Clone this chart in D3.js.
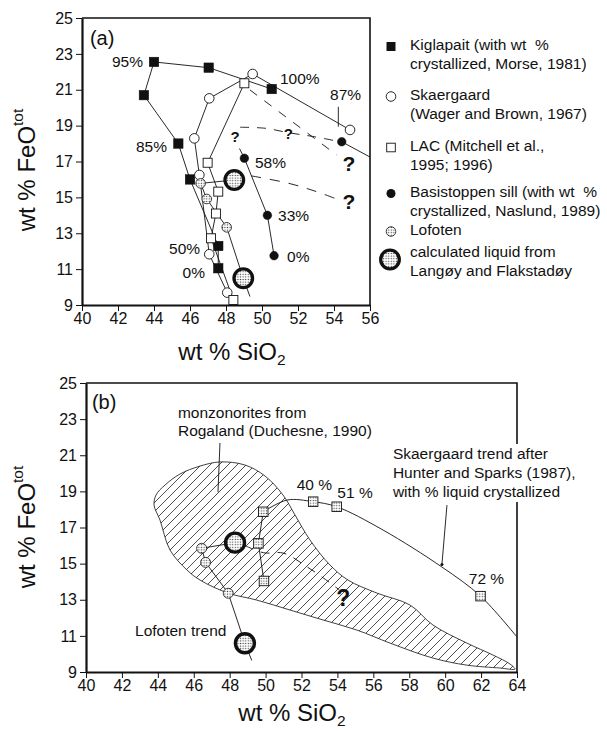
<!DOCTYPE html>
<html><head><meta charset="utf-8">
<script src="https://cdn.jsdelivr.net/npm/d3@7"></script>
<style>
body{margin:0;background:#fff;}
svg text{font-family:"Liberation Sans",Arial,Helvetica,sans-serif;fill:#111;white-space:pre;}
</style></head><body>
<svg id="fig" width="607" height="731"></svg>
<script>
// ---------- Panel (a): wt% SiO2 vs wt% FeOtot ----------
const kiglapait   = [[47.57,11.05],[47.57,12.29],[46.0,16.0],[45.35,18.0],[43.44,20.7],[44.0,22.55],[47.04,22.23],[50.54,21.04]];
const skaergaard  = [[48.07,9.69],[47.07,11.83],[46.52,16.25],[46.24,18.29],[47.07,20.52],[49.48,21.88],[54.89,18.76]];
const lac         = [[48.41,9.28],[47.17,12.72],[47.44,14.1],[47.57,15.32],[46.98,16.93],[49.02,21.36]];
const basistoppen = [[50.67,11.75],[50.3,14.0],[49.02,17.18]];
const basistoppenLate = [[54.43,18.1]];
const basistoppenTail = [[49.02,17.18],[48.75,17.72]];
const basistoppenEnd  = [[54.43,18.1],[56.0,17.25]];
const lofotenA    = [[46.59,15.78],[46.93,14.91],[48.04,13.33]];
const liquidA     = [[48.46,15.97],[48.96,10.49]];
const lofotenTrendA = [[46.59,15.78],[46.93,14.91],[48.04,13.33],[48.96,10.49],[49.33,9.47]];
const lofotenLinkA  = [[46.59,15.78],[48.46,15.97]];
const dashBasis   = [[48.78,18.91],[50.2,18.85],[51.5,18.6],[52.8,18.4],[54.06,18.16]];
const dashLac     = [[49.33,20.99],[54.15,17.36]];
const dashLiquidA = [[49.4,16.2],[51.5,15.78],[53.0,15.33],[54.3,14.85]];
const leader87    = [[54.24,20.05],[54.24,18.94]];
const pctLabelsA  = [
  ["95%",43.39,22.55,"end"],["85%",44.72,17.81,"end"],["100%",51.0,21.6,"start"],
  ["87%",53.78,20.71,"start"],["58%",49.61,16.92,"start"],["33%",50.89,13.96,"start"],
  ["0%",51.39,11.68,"start"],["50%",46.56,12.12,"end"],["0%",46.83,10.79,"end"]];
const smallQA = [[48.5,18.38],[51.46,18.57]];
const bigQA   = [[54.83,16.9],[54.83,14.76]];

// ---------- Panel (b) ----------
const hsPoints   = [[49.91,14.04],[49.6,16.12],[49.87,17.87],[52.65,18.43],[53.96,18.15],[61.97,13.2]];
const hsLower    = [[49.91,14.04],[49.6,16.12],[49.87,17.87]];
const hsCurve    = [[49.87,17.87],[51.2,18.52],[52.65,18.43],[53.96,18.15],[56.54,16.86],[59.82,14.81],[61.97,13.2],[63.98,10.96]];
const hsLabels   = [["40 %",52.72,19.35],["51 %",54.98,18.91],["72 %",62.3,14.2]];
const lofotenB   = [[46.44,15.85],[46.66,15.07],[47.92,13.36]];
const liquidB    = [[48.3,16.16],[48.85,10.59]];
const lofotenTrendB = [[46.44,15.85],[46.66,15.07],[47.92,13.36],[48.85,10.59],[49.23,9.64]];
const lofotenLinkB  = [[46.44,15.85],[48.3,16.16]];
const dashLiquidB = [[48.85,16.0],[49.9,15.6],[51.0,15.58],[52.3,14.83],[53.6,13.93],[54.1,13.55]];
const monzonorite = [
  [43.79,18.24],[43.90,18.80],[44.40,19.35],[45.23,19.96],[46.35,20.40],[47.46,20.63],[48.85,20.46],
  [49.97,19.85],[50.97,18.80],[51.64,17.69],[52.47,16.31],[53.59,14.92],[54.59,14.09],[56.20,13.37],
  [58.04,12.71],[59.32,11.60],[61.21,10.60],[62.66,9.94],[63.61,9.44],[63.89,9.16],
  [63.05,9.22],[61.21,9.38],[59.32,9.77],[56.93,10.60],[55.09,11.32],[53.20,11.88],[51.36,12.43],
  [49.52,12.98],[47.91,13.37],[46.35,14.09],[45.62,14.65],[44.68,15.75],[44.12,17.41]];
const leaderMonz = [[47.46,21.68],[47.35,18.96]];
const leaderHS   = [[60.1,18.24],[59.82,14.95]];
const bigQB      = [[54.33,13.08]];

const xTicksA = d3.range(40,57,2), xTicksB = d3.range(40,65,2), yTicks = d3.range(9,26,2);

const legendRows = [
  {sym:"fsq",  lines:["Kiglapait (with wt  %","crystallized, Morse, 1981)"], y:45},
  {sym:"ocirc",lines:["Skaergaard","(Wager and Brown, 1967)"], y:95},
  {sym:"osq",  lines:["LAC (Mitchell et al.,","1995; 1996)"], y:146},
  {sym:"fcirc",lines:["Basistoppen sill (with wt  %","crystallized, Naslund, 1989)"], y:192},
  {sym:"lof",  lines:["Lofoten"], y:230},
  {sym:"liq",  lines:["calculated liquid from","Langøy and Flakstadøy"], y:252}
];

const fig = d3.select("#fig");
const defs = fig.append("defs");
const stip = defs.append("pattern").attr("id","stipple").attr("patternUnits","userSpaceOnUse").attr("width",2.6).attr("height",2.6);
stip.append("rect").attr("width",2.6).attr("height",2.6).attr("fill","#fff");
stip.append("circle").attr("cx",1.3).attr("cy",1.3).attr("r",0.7).attr("fill","#444");
const hatch = defs.append("pattern").attr("id","hatch").attr("patternUnits","userSpaceOnUse").attr("width",9).attr("height",9);
hatch.append("path").attr("d","M-1,1 l2,-2 M0,9 l9,-9 M8,10 l2,-2").attr("stroke","#222").attr("stroke-width",0.8);

function makePanel(xr, yr, xTicks) {
  const x = d3.scaleLinear().domain([xTicks[0], xTicks[xTicks.length-1]]).range(xr);
  const y = d3.scaleLinear().domain([9,25]).range(yr);
  const g = fig.append("g");
  const line = d3.line().x(d=>x(d[0])).y(d=>y(d[1]));
  return {x,y,g,line};
}
function drawAxes(p, xTicks) {
  const {x,y,g} = p;
  const ax = g.append("g").attr("transform",`translate(0,${y.range()[0]})`)
    .call(d3.axisBottom(x).tickValues(xTicks).tickSize(6).tickPadding(2).tickSizeOuter(0));
  const ay = g.append("g").attr("transform",`translate(${x.range()[0]},0)`)
    .call(d3.axisLeft(y).tickValues(yTicks).tickSize(6).tickPadding(3).tickSizeOuter(0));
  [ax,ay].forEach(a=>{
    a.select(".domain").attr("stroke","#111").attr("stroke-width",2.2);
    a.selectAll(".tick line").attr("stroke","#111").attr("stroke-width",1);
    a.selectAll(".tick text").attr("font-size",16).attr("fill","#111")
      .attr("font-family",'"Liberation Sans",Arial,sans-serif');
  });
  // top and right frame
  g.append("path").attr("fill","none").attr("stroke","#111").attr("stroke-width",1.6)
    .attr("d",`M${x.range()[0]},${y.range()[1]}H${x.range()[1]}V${y.range()[0]}`);
}
function titles(p, cxTitle, titleY, baseX, cyTitle) {
  const {g} = p;
  const t = g.append("text").attr("x",cxTitle).attr("y",titleY)
    .attr("text-anchor","middle").attr("font-size",24);
  t.append("tspan").text("wt % SiO");
  t.append("tspan").attr("font-size",15.5).attr("dy",5).text("2");
  const yt = g.append("text").attr("transform",`translate(${baseX},${cyTitle}) rotate(-90)`)
    .attr("text-anchor","middle").attr("font-size",24);
  yt.append("tspan").text("wt % FeO");
  yt.append("tspan").attr("font-size",15.5).attr("dy",-12).text("tot");
}
function sq(g, pts, p, size, fill, sw) {
  g.selectAll(null).data(pts).join("rect")
    .attr("x",d=>p.x(d[0])-size/2).attr("y",d=>p.y(d[1])-size/2).attr("width",size).attr("height",size)
    .attr("fill",fill).attr("stroke","#111").attr("stroke-width",sw);
}
function circ(g, pts, p, r, fill, sw) {
  g.selectAll(null).data(pts).join("circle")
    .attr("cx",d=>p.x(d[0])).attr("cy",d=>p.y(d[1])).attr("r",r)
    .attr("fill",fill).attr("stroke","#111").attr("stroke-width",sw);
}
function path(p, pts, opts={}) {
  const ln = opts.curve ? d3.line().x(d=>p.x(d[0])).y(d=>p.y(d[1])).curve(opts.curve) : p.line;
  p.g.append("path").attr("d",ln(pts)).attr("fill",opts.fill||"none").attr("stroke","#111")
    .attr("stroke-width",opts.sw||0.9).attr("stroke-dasharray",opts.dash||null);
}

// ===== Panel (a) =====
const pa = makePanel([82,370],[305,18],xTicksA);
drawAxes(pa, xTicksA);
titles(pa, 232, 360, 35, 170);
pa.g.append("text").attr("x",pa.x(40.44)).attr("y",pa.y(23.9)).attr("dy","0.35em").attr("font-size",20).text("(a)");
[kiglapait, skaergaard, lac, basistoppen, basistoppenTail, basistoppenEnd, lofotenTrendA, lofotenLinkA, leader87]
  .forEach(s=>path(pa,s));
path(pa, dashBasis, {dash:"9,8", curve:d3.curveCatmullRom});
path(pa, dashLac, {dash:"9,9"});
path(pa, dashLiquidA, {dash:"10,9", curve:d3.curveCatmullRom});
sq(pa.g, kiglapait, pa, 9.5, "#111", 0.5);
circ(pa.g, skaergaard, pa, 4.8, "#fff", 0.9);
sq(pa.g, lac, pa, 9, "#fff", 0.9);
circ(pa.g, basistoppen.concat(basistoppenLate), pa, 4.3, "#111", 0.5);
circ(pa.g, lofotenA, pa, 4.8, "url(#stipple)", 0.8);
circ(pa.g, liquidA, pa, 9.3, "url(#stipple)", 3.3);
pa.g.selectAll(null).data(pctLabelsA).join("text")
  .attr("x",d=>pa.x(d[1])).attr("y",d=>pa.y(d[2])).attr("dy","0.35em")
  .attr("text-anchor",d=>d[3]).attr("font-size",15.5).text(d=>d[0]);
pa.g.selectAll(null).data(smallQA).join("text")
  .attr("x",d=>pa.x(d[0])).attr("y",d=>pa.y(d[1])).attr("dy","0.35em").attr("text-anchor","middle")
  .attr("font-size",15).attr("font-weight","bold").text("?");
pa.g.selectAll(null).data(bigQA).join("text")
  .attr("x",d=>pa.x(d[0])).attr("y",d=>pa.y(d[1])).attr("dy","0.35em").attr("text-anchor","middle")
  .attr("font-size",21).attr("font-weight","bold").text("?");

// legend
const lg = fig.append("g");
legendRows.forEach(r=>{
  const mx = 391, my = r.y + 1.5;
  if (r.sym==="fsq") lg.append("rect").attr("x",mx-4.5).attr("y",my-4.5).attr("width",9).attr("height",9).attr("fill","#111");
  if (r.sym==="ocirc") lg.append("circle").attr("cx",mx).attr("cy",my).attr("r",4.8).attr("fill","#fff").attr("stroke","#111").attr("stroke-width",0.9);
  if (r.sym==="osq") lg.append("rect").attr("x",mx-4.3).attr("y",my-4.3).attr("width",8.6).attr("height",8.6).attr("fill","#fff").attr("stroke","#111").attr("stroke-width",0.9);
  if (r.sym==="fcirc") lg.append("circle").attr("cx",mx).attr("cy",my).attr("r",4.5).attr("fill","#111");
  if (r.sym==="lof") lg.append("circle").attr("cx",mx).attr("cy",my).attr("r",4.8).attr("fill","url(#stipple)").attr("stroke","#111").attr("stroke-width",0.8);
  if (r.sym==="liq") lg.append("circle").attr("cx",mx-1).attr("cy",my+6).attr("r",9.3).attr("fill","url(#stipple)").attr("stroke","#111").attr("stroke-width",3.3);
  r.lines.forEach((t,i)=>{
    lg.append("text").attr("x",410).attr("y",r.y + i*18.3).attr("dy","0.35em").attr("font-size",15.5).text(t);
  });
});

// ===== Panel (b) =====
const pb = makePanel([86,517],[672,383],xTicksB);
pb.g.append("path").attr("fill","url(#hatch)").attr("stroke","#111").attr("stroke-width",0.8)
  .attr("d", d3.line().x(d=>pb.x(d[0])).y(d=>pb.y(d[1])).curve(d3.curveCatmullRomClosed)(monzonorite));
drawAxes(pb, xTicksB);
titles(pb, 292, 721, 35, 527);
pb.g.append("text").attr("x",pb.x(40.33)).attr("y",pb.y(23.95)).attr("dy","0.35em").attr("font-size",20).text("(b)");
path(pb, hsCurve, {curve:d3.curveCatmullRom});
path(pb, hsLower);
path(pb, lofotenTrendB);
path(pb, lofotenLinkB);
path(pb, leaderMonz);
path(pb, dashLiquidB, {dash:"9,8", curve:d3.curveCatmullRom});
sq(pb.g, hsPoints, pb, 9.5, "url(#stipple)", 0.9);
circ(pb.g, lofotenB, pb, 5, "url(#stipple)", 0.8);
circ(pb.g, liquidB, pb, 9.5, "url(#stipple)", 3.4);
pb.g.selectAll(null).data(hsLabels).join("text")
  .attr("x",d=>pb.x(d[1])).attr("y",d=>pb.y(d[2])).attr("dy","0.35em").attr("text-anchor","middle")
  .attr("font-size",15.5).text(d=>d[0]);
pb.g.selectAll(null).data(bigQB).join("text")
  .attr("x",d=>pb.x(d[0])).attr("y",d=>pb.y(d[1])).attr("dy","0.35em").attr("text-anchor","middle")
  .attr("font-size",23).attr("font-weight","bold").text("?");
pb.g.append("text").attr("x",pb.x(42.73)).attr("y",pb.y(11.32)).attr("dy","0.35em").attr("font-size",15.5).text("Lofoten trend");
["monzonorites from","Rogaland (Duchesne, 1990)"].forEach((t,i)=>
  pb.g.append("text").attr("x",pb.x(45.12)).attr("y",pb.y(23.39)+i*18.5).attr("dy","0.35em").attr("font-size",15.5).text(t));
// note block over the right frame
const noteLines = ["Skaergaard trend after","Hunter and Sparks (1987),","with % liquid crystallized"];
pb.g.append("rect").attr("x",pb.x(57.0)).attr("y",pb.y(21.07)-10).attr("width",192).attr("height",58).attr("fill","#fff");
noteLines.forEach((t,i)=>
  pb.g.append("text").attr("x",pb.x(57.09)).attr("y",pb.y(21.07)+i*19).attr("dy","0.35em").attr("font-size",15.5).text(t));
path(pb, leaderHS);
pb.g.append("circle").attr("cx",pb.x(leaderHS[1][0])).attr("cy",pb.y(leaderHS[1][1])).attr("r",1.5).attr("fill","#111");
</script>
</body></html>
